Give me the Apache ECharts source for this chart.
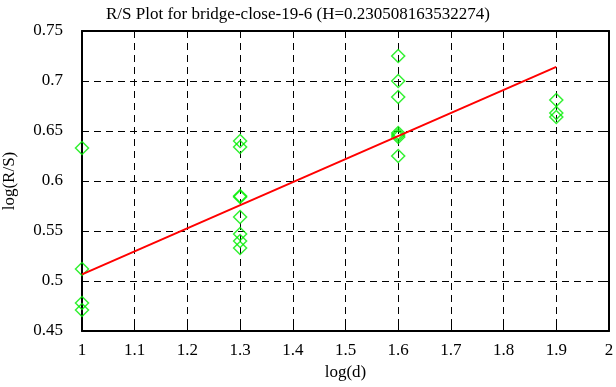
<!DOCTYPE html>
<html>
<head>
<meta charset="utf-8">
<script src="https://cdn.jsdelivr.net/npm/echarts@6/dist/echarts.min.js"></script>
<style>
  html, body { margin: 0; padding: 0; background: #fff; }
  #chart { width: 616px; height: 387px; }
</style>
</head>
<body>
<div id="chart"></div>
<script>
  // log(d) of each window size, and the log(R/S) values seen at it
  var logD = [1, 1.3, 1.6, 1.9]
  var rsAt1 = [0.633, 0.512, 0.478, 0.471]
  var rsAt13 = [0.640, 0.634, 0.585, 0.584, 0.564, 0.547, 0.540, 0.533]
  var rsAt16 = [0.725, 0.700, 0.684, 0.648, 0.646, 0.644, 0.625]
  var rsAt19 = [0.681, 0.668, 0.664]

  // fitted line (slope = H)
  var fitX = [1, 1.9]
  var fitY = [0.5067, 0.7142]

  var font = 'Liberation Serif'

  var points = []
  ;[rsAt1, rsAt13, rsAt16, rsAt19].forEach(function (list, i) {
    list.forEach(function (v) { points.push([logD[i], v]) })
  })
  var fit = fitX.map(function (x, i) { return [x, fitY[i]] })

  var fmt = function (v) { return String(parseFloat(v.toFixed(2))) }
  var grid = { type: [7, 5], color: '#000', width: 1 }

  var myChart = echarts.init(document.getElementById('chart'), null, { renderer: 'canvas' })
  var option = {
    animation: false,
    backgroundColor: '#fff',
    textStyle: { fontFamily: font, color: '#000' },
    title: {
      text: 'R/S Plot for bridge-close-19-6 (H=0.230508163532274)',
      left: 101,
      top: 1,
      textStyle: { fontFamily: font, fontSize: 17, fontWeight: 'normal', color: '#000' }
    },
    grid: { left: 82, right: 7, top: 31, bottom: 56, containLabel: false, outerBoundsMode: 'none' },
    xAxis: [
      {
        type: 'value', min: 1, max: 2, interval: 0.1,
        name: 'log(d)', nameLocation: 'middle', nameGap: 31,
        nameTextStyle: { fontFamily: font, fontSize: 17, color: '#000' },
        axisLine: { show: true, onZero: false, lineStyle: { color: '#000', width: 2 } },
        axisTick: { show: true, inside: true, length: 7, lineStyle: { color: '#000', width: 1 } },
        axisLabel: { formatter: fmt, margin: 11, fontFamily: font, fontSize: 17, color: '#000' },
        splitLine: { show: true, lineStyle: grid }
      },
      {
        type: 'value', position: 'top', min: 1, max: 2, interval: 0.1,
        axisLine: { show: true, onZero: false, lineStyle: { color: '#000', width: 2 } },
        axisTick: { show: true, inside: true, length: 7, lineStyle: { color: '#000', width: 1 } },
        axisLabel: { show: false },
        splitLine: { show: false }
      }
    ],
    yAxis: [
      {
        type: 'value', min: 0.45, max: 0.75, interval: 0.05,
        name: 'log(R/S)', nameLocation: 'middle', nameGap: 64, nameRotate: 90,
        nameTextStyle: { fontFamily: font, fontSize: 17, color: '#000' },
        axisLine: { show: true, onZero: false, lineStyle: { color: '#000', width: 2 } },
        axisTick: { show: true, inside: true, length: 7, lineStyle: { color: '#000', width: 1 } },
        axisLabel: { formatter: fmt, margin: 19, fontFamily: font, fontSize: 17, color: '#000' },
        splitLine: { show: true, lineStyle: grid }
      },
      {
        type: 'value', position: 'right', min: 0.45, max: 0.75, interval: 0.05,
        axisLine: { show: true, onZero: false, lineStyle: { color: '#000', width: 2 } },
        axisTick: { show: true, inside: true, length: 7, lineStyle: { color: '#000', width: 1 } },
        axisLabel: { show: false },
        splitLine: { show: false }
      }
    ],
    series: [
      {
        type: 'scatter',
        data: points,
        symbol: 'diamond',
        symbolSize: 13,
        itemStyle: { color: 'rgba(0,0,0,0)', borderColor: '#00ee00', borderWidth: 1.5 },
        z: 3
      },
      {
        type: 'line',
        data: fit,
        showSymbol: false,
        lineStyle: { color: '#ff0000', width: 2 },
        z: 4
      }
    ]
  }
  myChart.setOption(option)
</script>
</body>
</html>
